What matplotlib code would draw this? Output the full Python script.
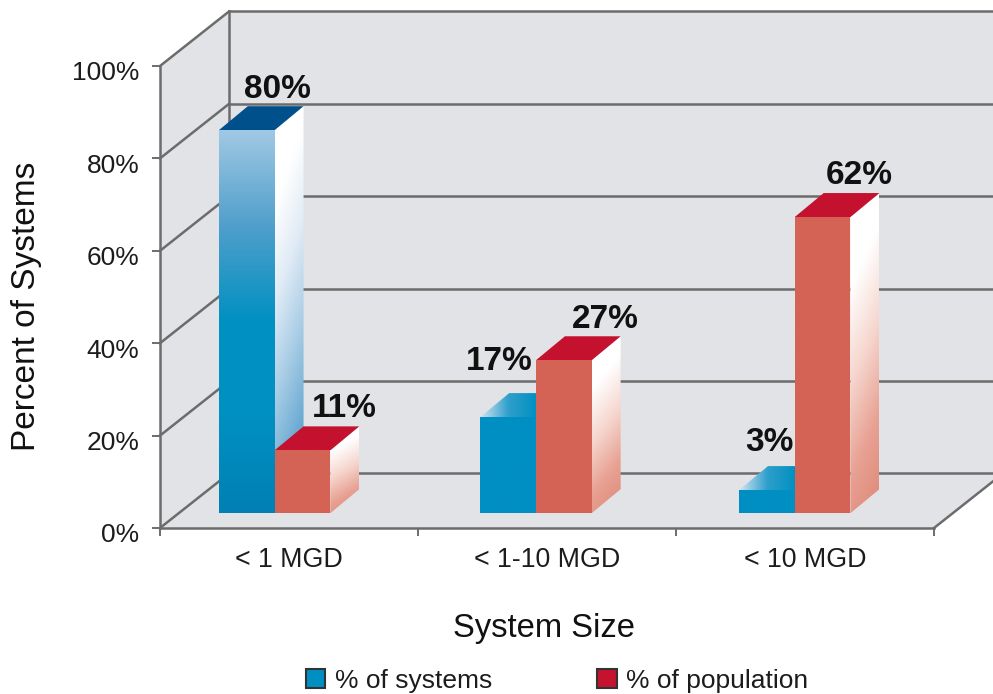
import numpy as np
import matplotlib
matplotlib.use("Agg")
import matplotlib.pyplot as plt
import matplotlib.colors as mcolors
import matplotlib.transforms as mtransforms
from matplotlib.patches import Polygon, Patch

plt.rcParams['font.family'] = ['Liberation Sans', 'DejaVu Sans']

categories = ['< 1 MGD', '< 1-10 MGD', '< 10 MGD']
systems_pct = [80, 17, 3]
population_pct = [11, 27, 62]
# the printed bars do not sit at their labelled value, so heights are read off the axis
systems_height = [82.9, 20.8, 5.0]
population_height = [13.6, 33.1, 64.1]
y_ticks = [0, 20, 40, 60, 80, 100]

GROUPS = [0.444, 1.457, 2.46]
BAR_W = 0.216
BASE = 3.2
DEPTH_X, DEPTH_Y = 0.1124, 5.2      # bar depth
WALL_X, WALL_Y = 0.2674, 11.8       # chart depth
WALL = '#e2e3e6'
GRID = '#6c6c6c'
TEXT = '#1c1c1c'

fig = plt.figure(figsize=(9.93, 6.94), dpi=100)
ax = fig.add_axes([160 / 993, 1 - 528 / 694, 774 / 993, 462 / 694])
ax.set_xlim(0, 3)
ax.set_ylim(0, 100)
for s in ax.spines.values():
    s.set_visible(False)
ax.patch.set_alpha(0)


def poly(pts, **kw):
    p = Polygon(pts, closed=True, clip_on=False, **kw)
    ax.add_patch(p)
    return p


def gradient_face(pts, colors, angle, zorder):
    # fill a polygon with a linear gradient, angle is the sideways lean of the ramp
    pts = np.array(pts)
    cmap = mcolors.LinearSegmentedColormap.from_list('face', colors)
    u, v = np.meshgrid(np.linspace(0, 1, 200), np.linspace(0, 1, 200))
    t = (v * np.cos(angle) + u * np.sin(angle))
    t = (t - t.min()) / (t.max() - t.min())
    clip = poly(pts, fc='none', ec='none', zorder=zorder)
    ext = [pts[:, 0].min(), pts[:, 0].max(), pts[:, 1].min(), pts[:, 1].max()]
    im = ax.imshow(t, cmap=cmap, extent=ext, origin='upper', aspect='auto',
                   interpolation='bilinear', zorder=zorder, clip_on=True)
    im.set_clip_path(clip)


def draw_bar(x, h, front, side, top, top_angle, z):
    x0, x1 = x, x + BAR_W
    y0, y1 = BASE, BASE + h
    front_pts = [(x0, y0), (x1, y0), (x1, y1), (x0, y1)]
    side_pts = [(x1, y0), (x1 + DEPTH_X, y0 + DEPTH_Y), (x1 + DEPTH_X, y1 + DEPTH_Y), (x1, y1)]
    top_pts = [(x0, y1), (x1, y1), (x1 + DEPTH_X, y1 + DEPTH_Y), (x0 + DEPTH_X, y1 + DEPTH_Y)]
    gradient_face(side_pts, side, 0.2, z)
    gradient_face(top_pts, top, top_angle, z + 0.1)
    gradient_face(front_pts, front, 0, z + 0.2)


# walls and floor
top = y_ticks[-1]
poly([(0, 0), (WALL_X, WALL_Y), (WALL_X, top + WALL_Y), (0, top)], fc=WALL, ec='none', zorder=1)
poly([(WALL_X, WALL_Y), (3 + WALL_X, WALL_Y), (3 + WALL_X, top + WALL_Y), (WALL_X, top + WALL_Y)],
     fc=WALL, ec='none', zorder=1)
poly([(0, 0), (3, 0), (3 + WALL_X, WALL_Y), (WALL_X, WALL_Y)], fc=WALL, ec='none', zorder=1)
for t in y_ticks:
    ax.plot([0, WALL_X], [t, t + WALL_Y], color=GRID, lw=1.8, zorder=2, clip_on=False)
    ax.plot([WALL_X, 3 + WALL_X], [t + WALL_Y, t + WALL_Y], color=GRID, lw=1.8, zorder=2, clip_on=False)
ax.plot([WALL_X, WALL_X], [WALL_Y, top + WALL_Y], color=GRID, lw=1.8, zorder=2, clip_on=False)
ax.plot([0, 0], [0, top], color=GRID, lw=1.8, zorder=2, clip_on=False)
ax.plot([0, 3], [0, 0], color=GRID, lw=1.8, zorder=2, clip_on=False)
ax.plot([3, 3 + WALL_X], [0, WALL_Y], color=GRID, lw=1.8, zorder=2, clip_on=False)

# bars
blue_solid = ['#008fc2', '#008fc2']
red_solid = ['#d46355', '#d46355']
for i, x in enumerate(GROUPS):
    if i == 0:
        draw_bar(x - BAR_W, systems_height[i],
                 ['#a0c8e4', '#4f9fcb', '#0090c2', '#0090c2', '#0080b4'],
                 ['#ffffff', '#ffffff', '#e0ebf5', '#a9cde6', '#6cabd2', '#4f9fcb'],
                 ['#00508c', '#00508c'], 0, 3)
    else:
        draw_bar(x - BAR_W, systems_height[i], blue_solid, ['#0090c2', '#0090c2'],
                 ['#d3e5f3', '#2f9fcb', '#0090c2', '#0078ae'], np.pi / 2, 3)
    draw_bar(x, population_height[i], red_solid,
             ['#ffffff', '#ffffff', '#f6d6ce', '#e8a193', '#dd8877'],
             ['#c4122f', '#c4122f'], 0, 4)

# value labels, offsets in pixels from the front top edge of each bar
sys_off = [(31, 41), (-9, 56), (3, 48)]
pop_off = [(42, 42), (42, 41), (37, 42)]
for i, x in enumerate(GROUPS):
    ax.annotate(f'{systems_pct[i]}%', (x - BAR_W / 2, BASE + systems_height[i]), xytext=sys_off[i],
                textcoords='offset pixels', ha='center', va='center', fontsize=24,
                fontweight='bold', color='#111111', zorder=8, annotation_clip=False)
    ax.annotate(f'{population_pct[i]}%', (x + BAR_W / 2, BASE + population_height[i]), xytext=pop_off[i],
                textcoords='offset pixels', ha='center', va='center', fontsize=24,
                fontweight='bold', color='#111111', zorder=8, annotation_clip=False)

# axes
ax.set_yticks(y_ticks)
ax.set_yticklabels([f'{t}%' for t in y_ticks], fontsize=19, color=TEXT)
ax.set_xticks([0, 1, 2, 3])
ax.set_xticklabels([])
ax.set_xticks([0.5, 1.5, 2.5], minor=True)
ax.set_xticklabels(categories, minor=True, fontsize=19.3, color=TEXT)
ax.tick_params(axis='x', which='major', length=6, width=1.4, color=GRID)
ax.tick_params(axis='x', which='minor', length=0, pad=14)
ax.tick_params(axis='y', length=6, width=1.4, color=GRID, pad=9)
shift = mtransforms.ScaledTranslation(0, -5 / 100, fig.dpi_scale_trans)
for lab in ax.get_yticklabels():
    lab.set_transform(lab.get_transform() + shift)

fig.text(27 / 993, 1 - 306 / 694, 'Percent of Systems', rotation=90, ha='center', va='center',
         fontsize=24, color='#111111')
fig.text(544 / 993, 1 - 629 / 694, 'System Size', ha='center', va='center',
         fontsize=23.6, color='#111111')

handles = [Patch(fc='#008fc2', ec='#333333', lw=1.5), Patch(fc='#c4122f', ec='#333333', lw=1.5)]
fig.legend(handles, ['% of systems', '% of population'], ncols=2, frameon=False,
           loc='center', bbox_to_anchor=(557 / 993, 1 - 681 / 694), fontsize=19,
           handlelength=0.75, handleheight=0.75, handletextpad=0.35, columnspacing=4.0,
           labelcolor=TEXT, borderpad=0)

ax.set_xlim(0, 3)
ax.set_ylim(0, 100)
fig.savefig('out.png', dpi=100)
